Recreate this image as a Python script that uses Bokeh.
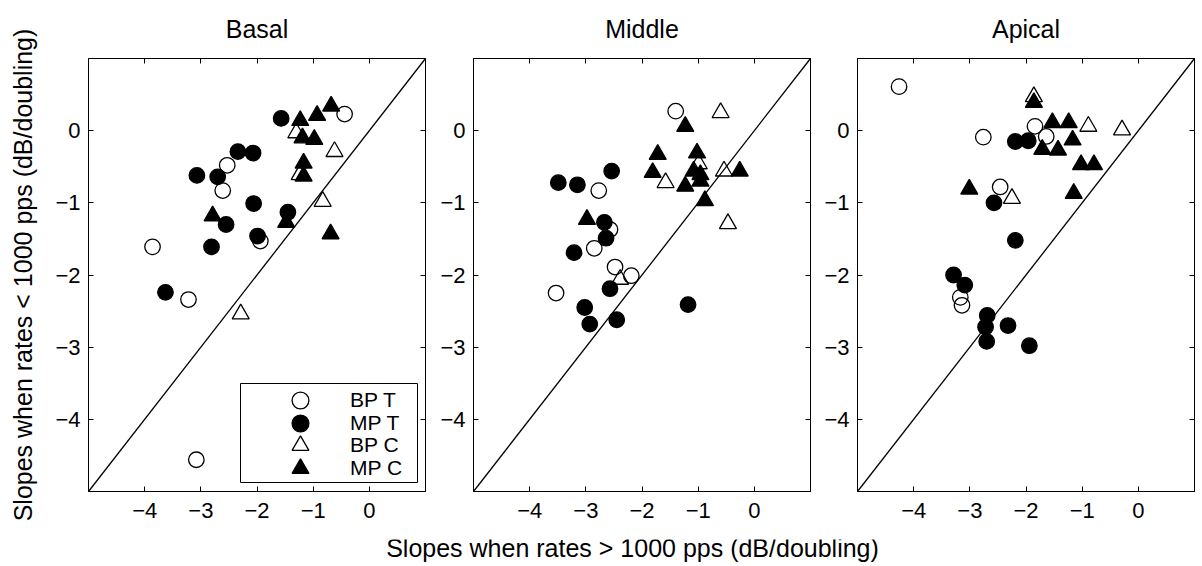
from bokeh.plotting import figure
from bokeh.models import (LinearAxis, FixedTicker, CustomJSTickFormatter, Slope,
                          Legend, LegendItem, Range1d, Label, BoxAnnotation)
from bokeh.layouts import row, column
from bokeh.embed import file_html
from bokeh.resources import INLINE

FONT = "Liberation Sans"

panel_titles = ["Basal", "Middle", "Apical"]
tick_values = [-4, -3, -2, -1, 0]
series_names = ["BP T", "MP T", "BP C", "MP C"]
x_label = "Slopes when rates > 1000 pps (dB/doubling)"
y_label = "Slopes when rates < 1000 pps (dB/doubling)"

# ---- Basal ----
basal_bpt_x = [-0.44, -2.53, -2.61, -1.94, -3.86, -3.22, -3.08]
basal_bpt_y = [0.23, -0.48, -0.83, -1.53, -1.61, -2.34, -4.56]
basal_mpt_x = [-1.57, -2.34, -2.07, -3.07, -2.70, -2.06, -1.45, -2.55, -1.99, -2.81, -3.63]
basal_mpt_y = [0.17, -0.29, -0.31, -0.62, -0.64, -1.01, -1.13, -1.30, -1.46, -1.61, -2.24]
basal_bpc_x = [-1.30, -0.62, -1.24, -0.83, -2.29]
basal_bpc_y = [-0.03, -0.29, -0.61, -0.98, -2.54]
basal_mpc_x = [-1.23, -0.93, -0.68, -1.19, -0.98, -1.17, -1.17, -2.79, -1.48, -0.69]
basal_mpc_y = [0.14, 0.21, 0.34, -0.10, -0.12, -0.45, -0.63, -1.18, -1.27, -1.43]

# ---- Middle ----
middle_bpt_x = [-1.40, -2.77, -2.57, -2.85, -2.48, -2.19, -3.53]
middle_bpt_y = [0.27, -0.83, -1.37, -1.63, -1.89, -2.01, -2.25]
middle_mpt_x = [-2.54, -3.49, -3.15, -2.67, -2.64, -3.21, -2.57, -3.02, -2.93, -2.45, -1.18]
middle_mpt_y = [-0.56, -0.72, -0.75, -1.27, -1.49, -1.69, -2.19, -2.45, -2.68, -2.62, -2.41]
middle_bpc_x = [-0.60, -0.99, -0.54, -1.58, -0.47, -2.39]
middle_bpc_y = [0.25, -0.46, -0.56, -0.72, -1.29, -2.06]
middle_mpc_x = [-1.23, -1.72, -1.02, -1.81, -1.08, -0.96, -1.23, -0.96, -0.26, -0.88, -2.98]
middle_mpc_y = [0.06, -0.33, -0.31, -0.58, -0.56, -0.61, -0.77, -0.70, -0.56, -0.97, -1.23]

# ---- Apical ----
apical_bpt_x = [-4.26, -2.76, -1.84, -1.64, -2.46, -3.17, -3.14]
apical_bpt_y = [0.61, -0.09, 0.06, -0.08, -0.78, -2.31, -2.42]
apical_mpt_x = [-2.19, -1.96, -2.57, -2.19, -3.29, -3.09, -2.69, -2.72, -2.70, -2.32, -1.94]
apical_mpt_y = [-0.15, -0.14, -1.00, -1.52, -2.00, -2.14, -2.56, -2.72, -2.92, -2.70, -2.98]
apical_bpc_x = [-1.86, -0.89, -0.29, -2.25]
apical_bpc_y = [0.47, 0.06, 0.01, -0.94]
apical_mpc_x = [-1.86, -1.53, -1.24, -1.17, -1.71, -1.43, -1.02, -0.79, -1.15, -3.01]
apical_mpc_y = [0.39, 0.11, 0.11, -0.13, -0.26, -0.27, -0.47, -0.47, -0.87, -0.81]

panels_data = [
    [(basal_bpt_x, basal_bpt_y), (basal_mpt_x, basal_mpt_y),
     (basal_bpc_x, basal_bpc_y), (basal_mpc_x, basal_mpc_y)],
    [(middle_bpt_x, middle_bpt_y), (middle_mpt_x, middle_mpt_y),
     (middle_bpc_x, middle_bpc_y), (middle_mpc_x, middle_mpc_y)],
    [(apical_bpt_x, apical_bpt_y), (apical_mpt_x, apical_mpt_y),
     (apical_bpc_x, apical_bpc_y), (apical_mpc_x, apical_mpc_y)],
]

styles = [
    dict(marker="circle", size=15.5, fill_color=None),
    dict(marker="circle", size=15.5, fill_color="black"),
    dict(marker="triangle", size=17, fill_color=None),
    dict(marker="triangle", size=17, fill_color="black"),
]

fmt_code = r"return tick < 0 ? '\u2212' + Math.abs(tick) : String(tick);"


def style_axis(ax, labels=True, standoff=8):
    ax.ticker = FixedTicker(ticks=tick_values)
    ax.major_tick_in = 5
    ax.major_tick_out = 0
    ax.minor_tick_line_color = None
    ax.axis_line_color = "black"
    ax.axis_line_width = 1
    ax.major_tick_line_color = "black"
    ax.major_tick_line_width = 1
    ax.major_label_text_font = FONT
    if labels:
        ax.formatter = CustomJSTickFormatter(code=fmt_code)
        ax.major_label_text_color = "black"
        ax.major_label_text_font_size = "22px"
        ax.major_label_standoff = standoff
    else:
        ax.major_label_text_color = None
        ax.major_label_text_alpha = 0.0
        ax.major_label_text_font_size = "0px"
        ax.major_label_standoff = 0


borders = [(88, 4), (44, 4), (43, 4)]
legend_rows_y = [70, 47.5, 25, 2.5]
figs = []
for i in range(3):
    left, right = borders[i]
    p = figure(frame_width=337, frame_height=433,
               x_range=Range1d(-5, 1), y_range=Range1d(-5, 1),
               min_border_left=left, min_border_right=right,
               min_border_top=58, min_border_bottom=48,
               output_backend="svg", toolbar_location=None)
    p.xgrid.visible = False
    p.ygrid.visible = False
    p.outline_line_color = "black"
    p.outline_line_width = 1
    p.background_fill_color = "white"
    p.border_fill_color = "white"

    style_axis(p.xaxis[0], True, standoff=11)
    style_axis(p.yaxis[0], True, standoff=8)
    top_ax = LinearAxis()
    style_axis(top_ax, False)
    p.add_layout(top_ax, "above")
    right_ax = LinearAxis()
    style_axis(right_ax, False)
    p.add_layout(right_ax, "right")

    p.title.text = panel_titles[i]
    p.title.align = "center"
    p.title.vertical_align = "top"
    p.title.text_font = FONT
    p.title.text_font_size = "25px"
    p.title.text_font_style = "normal"
    p.title.text_color = "black"
    p.title.standoff = 28

    p.add_layout(Slope(gradient=1, y_intercept=0, line_color="black", line_width=1.3))

    rends = []
    for (xs, ys), st in zip(panels_data[i], styles):
        r = p.scatter(xs, ys, marker=st["marker"], size=st["size"],
                      fill_color=st["fill_color"], line_color="black", line_width=1.3)
        rends.append(r)

    if i == 0:
        p.yaxis[0].axis_label = y_label
        p.yaxis[0].axis_label_text_font = FONT
        p.yaxis[0].axis_label_text_font_size = "25px"
        p.yaxis[0].axis_label_text_font_style = "normal"
        p.yaxis[0].axis_label_text_color = "black"
        p.yaxis[0].axis_label_standoff = 15
        p.add_layout(BoxAnnotation(left=152, right=329, bottom=9, top=108,
                                   left_units="screen", right_units="screen",
                                   bottom_units="screen", top_units="screen",
                                   fill_color="white", fill_alpha=1.0,
                                   line_color="black", line_alpha=1.0, line_width=1))
        for name, r, ly in zip(series_names, rends, legend_rows_y):
            lg = Legend(items=[LegendItem(label=name, renderers=[r])],
                        location=(191, ly), padding=0, spacing=0, margin=0,
                        glyph_height=42, glyph_width=42, label_standoff=29,
                        label_width=60, label_height=20,
                        label_text_font=FONT, label_text_font_size="21px",
                        label_text_color="black",
                        border_line_color=None, background_fill_alpha=0.0)
            p.add_layout(lg)
    figs.append(p)

# shared x-axis label strip beneath the three panels
xlab = figure(width=1198, height=27, x_range=Range1d(0, 1), y_range=Range1d(0, 1),
              title=None, x_axis_location=None, y_axis_location=None, min_border=0,
              output_backend="svg", toolbar_location=None)
xlab.xgrid.visible = False
xlab.ygrid.visible = False
xlab.outline_line_color = None
xlab.add_layout(Label(x=632, y=18.5, x_units="screen", y_units="screen",
                      text=x_label, text_align="center", text_baseline="alphabetic",
                      text_font=FONT, text_font_size="25px", text_color="black"))

layout = column(row(*figs), xlab)
with open("out.html", "w", encoding="utf-8") as f:
    f.write(file_html(layout, INLINE))
